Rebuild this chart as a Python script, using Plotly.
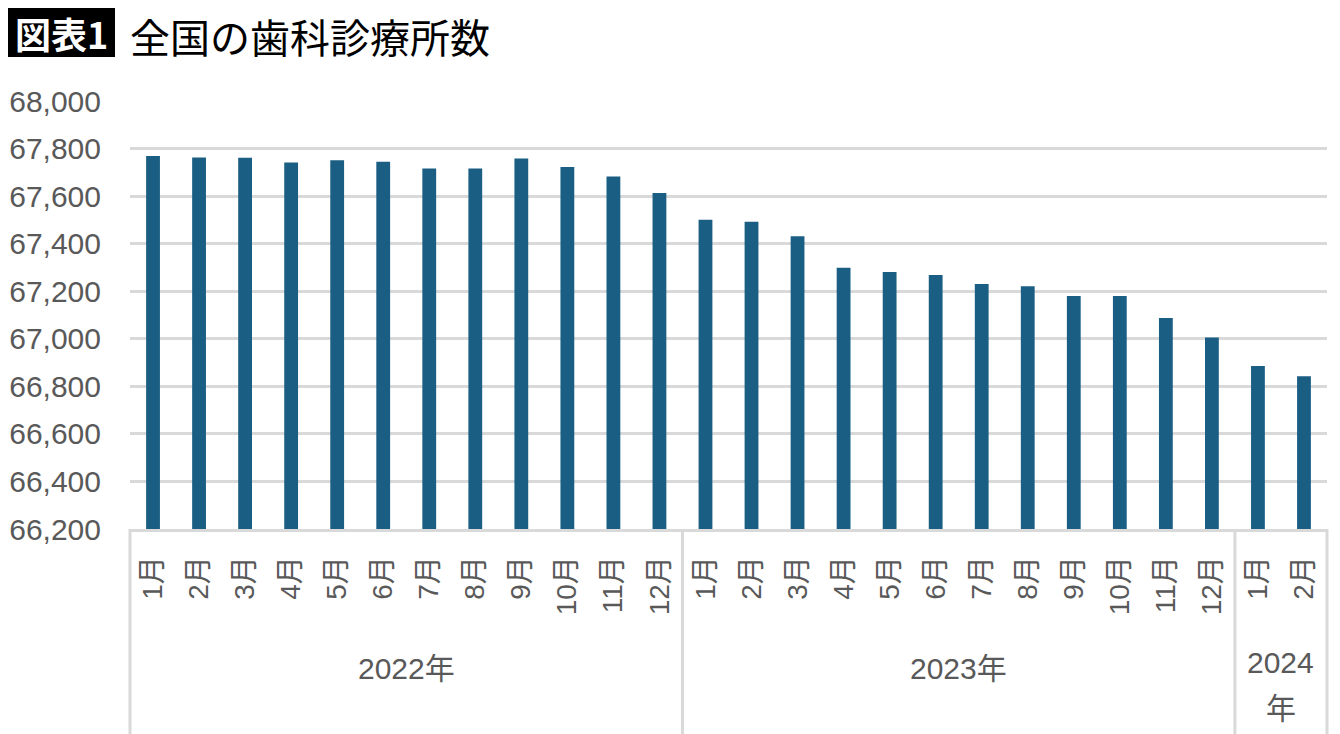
import plotly.graph_objects as go

# 全国の歯科診療所数（月次）
years = ["2022年", "2023年", "2024<br>年"]
months_per_year = [12, 12, 2]
month_labels = [f"{m}月" for m in range(1, 13)] + [f"{m}月" for m in range(1, 13)] + ["1月", "2月"]
clinics = [
    67769, 67762, 67761, 67741, 67751, 67745, 67716, 67716, 67758, 67722, 67683, 67613,
    67501, 67492, 67431, 67299, 67281, 67268, 67230, 67221, 67180, 67180, 67087, 67005,
    66886, 66842,
]
y_ticks = list(range(66200, 68001, 200))

W, H = 1340, 734
OFF = 8  # page body margin in the browser
L, T = 130 - OFF, 101 - OFF
R = W - (1327 - OFF)
B = H - (529 - OFF)
pw, ph = W - L - R, H - T - B
n = len(clinics)

grey = "#595959"
line_grey = "#d9d9d9"
font_family = "Liberation Sans, Arial, Noto Sans CJK JP"


def px_x(sx):
    return (sx - OFF - L) / pw


def px_y(sy):
    return (H - B - (sy - OFF)) / ph


fig = go.Figure(go.Bar(
    x=list(range(n)),
    y=clinics,
    marker=dict(color="#1b5e83", line=dict(width=0)),
    width=0.3,
))

# group separators and year labels below the axis
shapes = []
annotations = []
bounds = [0]
for cnt in months_per_year:
    bounds.append(bounds[-1] + cnt)
for b in bounds:
    xp = b / n
    shapes.append(dict(type="line", xref="paper", yref="paper", x0=xp, x1=xp,
                       y0=0, y1=px_y(745), line=dict(color=line_grey, width=3)))
for i, yr in enumerate(years):
    mid = (bounds[i] + bounds[i + 1]) / 2 / n
    parts = yr.split("<br>")
    ys = [668] if len(parts) == 1 else [662, 708]
    for part, sy in zip(parts, ys):
        annotations.append(dict(xref="paper", yref="paper", x=mid, y=px_y(sy),
                                text=part, showarrow=False, xanchor="center", yanchor="middle",
                                font=dict(size=30, color=grey, family=font_family)))

# title block
shapes.append(dict(type="rect", xref="paper", yref="paper",
                   x0=px_x(8), x1=px_x(115), y0=px_y(57), y1=px_y(7),
                   fillcolor="black", line=dict(width=0), layer="above"))
annotations.append(dict(xref="paper", yref="paper", x=px_x(61.5), y=px_y(33),
                        text="図表1", showarrow=False, xanchor="center", yanchor="middle",
                        font=dict(size=36, color="white", family="Noto Sans CJK JP", weight=700)))
annotations.append(dict(xref="paper", yref="paper", x=px_x(128), y=px_y(36),
                        text="全国の歯科診療所数", showarrow=False, xanchor="left", yanchor="middle",
                        font=dict(size=40, color="black", family="Noto Sans CJK JP", weight=400)))

fig.update_layout(
    width=W, height=H,
    margin=dict(l=L, r=R, t=T, b=B, pad=0),
    plot_bgcolor="white", paper_bgcolor="white",
    showlegend=False,
    shapes=shapes,
    annotations=annotations,
    xaxis=dict(
        range=[-0.5, n - 0.5], automargin=False,
        tickmode="array", tickvals=list(range(n)), ticktext=month_labels,
        tickangle=-90, ticks="", showgrid=False, zeroline=False,
        showline=True, linecolor=line_grey, linewidth=3,
        tickfont=dict(size=28, color=grey, family=font_family),
        ticklabelstandoff=13,
    ),
    yaxis=dict(
        range=[66200, 68000], automargin=False,
        tickmode="array", tickvals=y_ticks, tickformat=",",
        showgrid=True, gridcolor=line_grey, gridwidth=3, zeroline=False,
        showline=False, ticks="",
        tickfont=dict(size=30, color=grey, family=font_family),
        ticklabelstandoff=28,
    ),
)

fig.write_html("out.html")
